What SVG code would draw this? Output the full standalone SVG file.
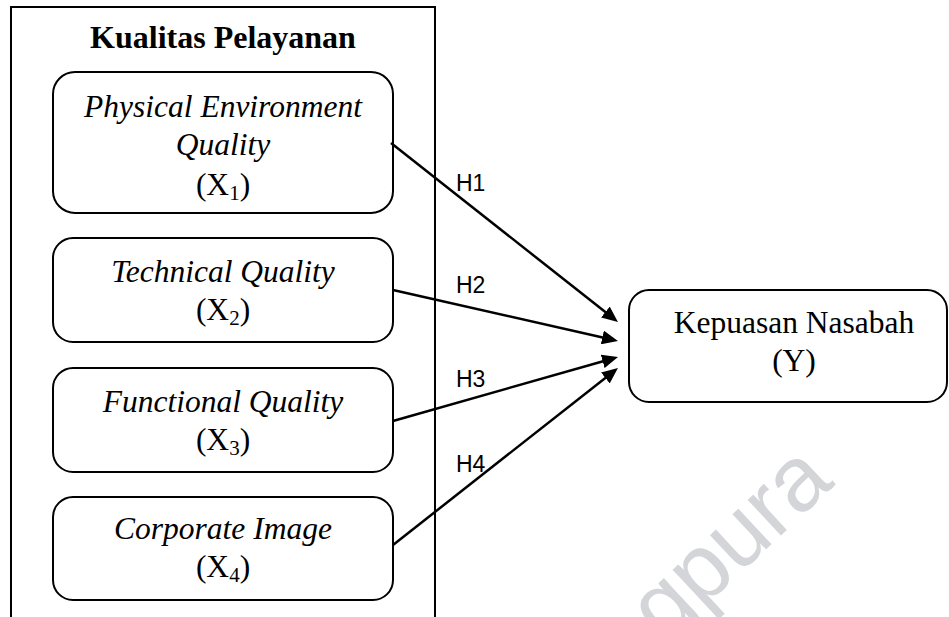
<svg xmlns="http://www.w3.org/2000/svg" width="949" height="617" viewBox="0 0 949 617">
<style>
.box{fill:#fff;stroke:#000;stroke-width:2}
.frame{fill:none;stroke:#000;stroke-width:2}
.t{font-family:"Liberation Serif","Times New Roman",serif;font-size:31.5px;fill:#000;text-anchor:middle}
.i{font-style:italic}
.b{font-weight:bold;font-size:32px}
.sub{font-size:21px}
.h{font-family:"Liberation Sans",Arial,sans-serif;font-size:23px;fill:#000}
.con{stroke:#000;stroke-width:2.5;fill:none;marker-end:url(#ah)}
.wm{font-family:"Liberation Sans",Arial,sans-serif;font-size:92px;fill:#d3d5d8;text-anchor:end}
</style>
<defs>
<marker id="ah" markerUnits="userSpaceOnUse" markerWidth="17" markerHeight="14" refX="6" refY="7" orient="auto">
<path d="M0,0 L16,7 L0,14 z" fill="#000"/>
</marker>
</defs>
<rect width="949" height="617" fill="#fff"/>
<text class="wm" transform="translate(836,484) rotate(-43)">gpura</text>
<g id="group-kualitas">
<path class="frame" d="M11,620 L11,7 L435,7 L435,620"/>
<text class="t b" x="223" y="48">Kualitas Pelayanan</text>
</g>
<g id="x1">
<rect class="box" x="53" y="72" width="340" height="141" rx="22"/>
<text class="t i" x="223" y="117">Physical Environment</text>
<text class="t i" x="223" y="155">Quality</text>
<text class="t" x="223" y="195">(X<tspan class="sub" dy="5">1</tspan><tspan dy="-5">)</tspan></text>
</g>
<g id="x2">
<rect class="box" x="53" y="238" width="340" height="104" rx="20"/>
<text class="t i" x="223" y="282">Technical Quality</text>
<text class="t" x="223" y="320">(X<tspan class="sub" dy="5">2</tspan><tspan dy="-5">)</tspan></text>
</g>
<g id="x3">
<rect class="box" x="53" y="368" width="340" height="104" rx="20"/>
<text class="t i" x="223" y="412">Functional Quality</text>
<text class="t" x="223" y="450">(X<tspan class="sub" dy="5">3</tspan><tspan dy="-5">)</tspan></text>
</g>
<g id="x4">
<rect class="box" x="53" y="497" width="340" height="103" rx="20"/>
<text class="t i" x="223" y="539">Corporate Image</text>
<text class="t" x="223" y="577">(X<tspan class="sub" dy="5">4</tspan><tspan dy="-5">)</tspan></text>
</g>
<g id="y">
<rect class="box" x="629" y="290" width="318" height="112" rx="20"/>
<text class="t" x="794" y="333">Kepuasan Nasabah</text>
<text class="t" x="794" y="371">(Y)</text>
</g>
<g id="connectors">
<line class="con" x1="391" y1="143" x2="610.1" y2="315.8"/>
<line class="con" x1="393" y1="290" x2="608.2" y2="338.8"/>
<line class="con" x1="393" y1="421" x2="608.4" y2="359.7"/>
<line class="con" x1="393" y1="545" x2="610.1" y2="374.2"/>
<text class="h" x="456" y="191">H1</text>
<text class="h" x="456" y="293">H2</text>
<text class="h" x="456" y="387">H3</text>
<text class="h" x="456" y="472">H4</text>
</g>
</svg>
